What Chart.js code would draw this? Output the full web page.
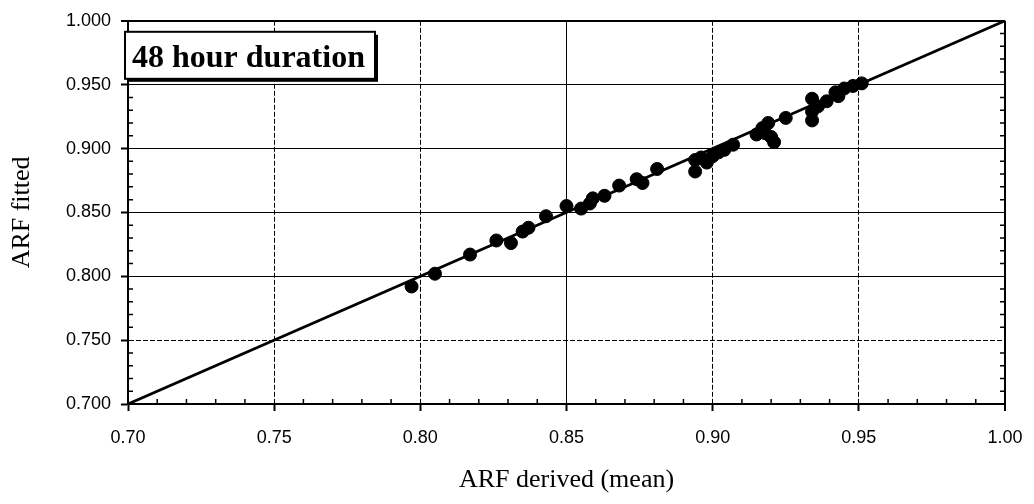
<!DOCTYPE html>
<html>
<head>
<meta charset="utf-8">
<script src="https://cdn.jsdelivr.net/npm/chart.js@4/dist/chart.umd.min.js"></script>
<style>
  body { margin: 0; background: #fff; }
  #wrap { width: 1034px; height: 504px; position: relative; }
</style>
</head>
<body>
<div id="wrap"><canvas id="plots"></canvas></div>
<script>
// ARF derived (mean) vs ARF fitted, 48 hour duration
const arfDerived = [0.797, 0.805, 0.817, 0.826, 0.831, 0.835, 0.837, 0.843, 0.850, 0.855,
  0.859, 0.858, 0.863, 0.868, 0.874, 0.876, 0.881, 0.894, 0.894, 0.896,
  0.898, 0.900, 0.902, 0.904, 0.907, 0.915, 0.917, 0.919, 0.920, 0.921,
  0.925, 0.934, 0.934, 0.934, 0.936, 0.939, 0.942, 0.945, 0.948, 0.951, 0.943, 0.918]
const arfFitted = [0.792, 0.802, 0.817, 0.828, 0.826, 0.835, 0.838, 0.847, 0.855, 0.853,
  0.861, 0.857, 0.863, 0.871, 0.876, 0.873, 0.884, 0.882, 0.891, 0.893,
  0.889, 0.894, 0.897, 0.899, 0.903, 0.911, 0.916, 0.920, 0.909, 0.905,
  0.924, 0.939, 0.922, 0.929, 0.933, 0.937, 0.944, 0.947, 0.949, 0.951, 0.941, 0.912]
const lineX = [0.70, 1.00]
const lineY = [0.70, 1.00]
const xTicks = [0.70, 0.75, 0.80, 0.85, 0.90, 0.95, 1.00]
const yTicks = [0.700, 0.750, 0.800, 0.850, 0.900, 0.950, 1.000]
const boxLabel = '48 hour duration'

const puntos = arfDerived.map((v, i) => ({ x: v, y: arfFitted[i] }))
const linea = lineX.map((v, i) => ({ x: v, y: lineY[i] }))

// small inside ticks every 0.01
const minorTicks = {
  id: 'minorTicks',
  afterDatasetsDraw(chart) {
    const ctx = chart.ctx
    const xs = chart.scales.x, ys = chart.scales.y
    const a = chart.chartArea
    ctx.save()
    ctx.strokeStyle = '#000'
    ctx.lineWidth = 1.5
    ctx.beginPath()
    for (let k = 71; k < 100; k++) {
      if (k % 5 === 0) continue
      const v = k / 100
      const px = xs.getPixelForValue(v)
      ctx.moveTo(px, a.bottom)
      ctx.lineTo(px, a.bottom - 5)
      const py = ys.getPixelForValue(v)
      ctx.moveTo(a.left, py)
      ctx.lineTo(a.left + 5, py)
      ctx.moveTo(a.right, py)
      ctx.lineTo(a.right - 5, py)
    }
    ctx.stroke()
    ctx.restore()
  }
}

const labelBox = {
  id: 'labelBox',
  afterDatasetsDraw(chart) {
    const ctx = chart.ctx
    const a = chart.chartArea
    const x0 = a.left - 3, y0 = a.top + 11, w = 250, h = 47
    ctx.save()
    ctx.fillStyle = '#000'
    ctx.fillRect(x0 + 3, y0 + 3, w, h)
    ctx.fillStyle = '#fff'
    ctx.fillRect(x0, y0, w, h)
    ctx.strokeStyle = '#000'
    ctx.lineWidth = 2
    ctx.strokeRect(x0, y0, w, h)
    ctx.fillStyle = '#000'
    ctx.font = 'bold 32px "Liberation Serif", "Times New Roman", serif'
    ctx.textBaseline = 'alphabetic'
    ctx.fillText(boxLabel, x0 + 7, y0 + 35)
    ctx.restore()
  }
}

const isDashedX = v => [0.75, 0.80, 0.90, 0.95].some(t => Math.abs(t - v) < 1e-6)
const isDashedY = v => Math.abs(v - 0.75) < 1e-6

const tickFont = { family: '"Liberation Sans", Arial, sans-serif', size: 18 }
const titleFont = { family: '"Liberation Serif", "Times New Roman", serif', size: 26 }

new Chart(document.getElementById('plots'), {
  type: 'scatter',
  data: {
    datasets: [{
      type: 'line',
      data: linea,
      borderColor: '#000',
      borderWidth: 2.8,
      pointRadius: 0,
      fill: false,
      order: 2
    }, {
      data: puntos,
      backgroundColor: '#000',
      borderColor: '#000',
      pointRadius: 6.5,
      pointHoverRadius: 6.5,
      order: 1
    }]
  },
  options: {
    responsive: true,
    maintainAspectRatio: false,
    animation: false,
    layout: { padding: { top: 17, right: 29, left: 0, bottom: 0 } },
    plugins: { legend: { display: false }, tooltip: { enabled: false } },
    scales: {
      x: {
        type: 'linear',
        min: 0.70, max: 1.00,
        afterBuildTicks: s => { s.ticks = xTicks.map(v => ({ value: v })) },
        afterFit: s => { s.height = 100; s.paddingLeft = 0; s.paddingRight = 0 },
        ticks: { color: '#000', font: tickFont, padding: 16, maxRotation: 0,
          callback: v => Number(v).toFixed(2) },
        grid: {
          color: '#000',
          lineWidth: c => (c.tick && c.tick.value >= 1) ? 2 : 1,
          tickLength: 7, tickWidth: 2, tickColor: '#000'
        },
        border: { display: true, color: '#000', width: 2,
          dash: c => (c.tick && isDashedX(c.tick.value)) ? [5, 2] : [] },
        title: { display: true, text: 'ARF derived (mean)', color: '#000', font: titleFont,
          padding: { top: 0, bottom: 8 } }
      },
      y: {
        type: 'linear',
        min: 0.70, max: 1.00,
        afterBuildTicks: s => { s.ticks = yTicks.map(v => ({ value: v })) },
        afterFit: s => { s.width = 128 },
        ticks: { color: '#000', font: tickFont, padding: 10,
          callback: v => Number(v).toFixed(3) },
        grid: {
          color: '#000',
          lineWidth: c => (c.tick && c.tick.value >= 1) ? 2 : 1,
          tickLength: 7, tickWidth: 2, tickColor: '#000'
        },
        border: { display: true, color: '#000', width: 2,
          dash: c => (c.tick && isDashedY(c.tick.value)) ? [5, 2] : [] },
        title: { display: true, text: 'ARF fitted', color: '#000', font: titleFont,
          padding: { top: 7, bottom: 0 } }
      }
    }
  },
  plugins: [minorTicks, labelBox]
})
</script>
</body>
</html>
